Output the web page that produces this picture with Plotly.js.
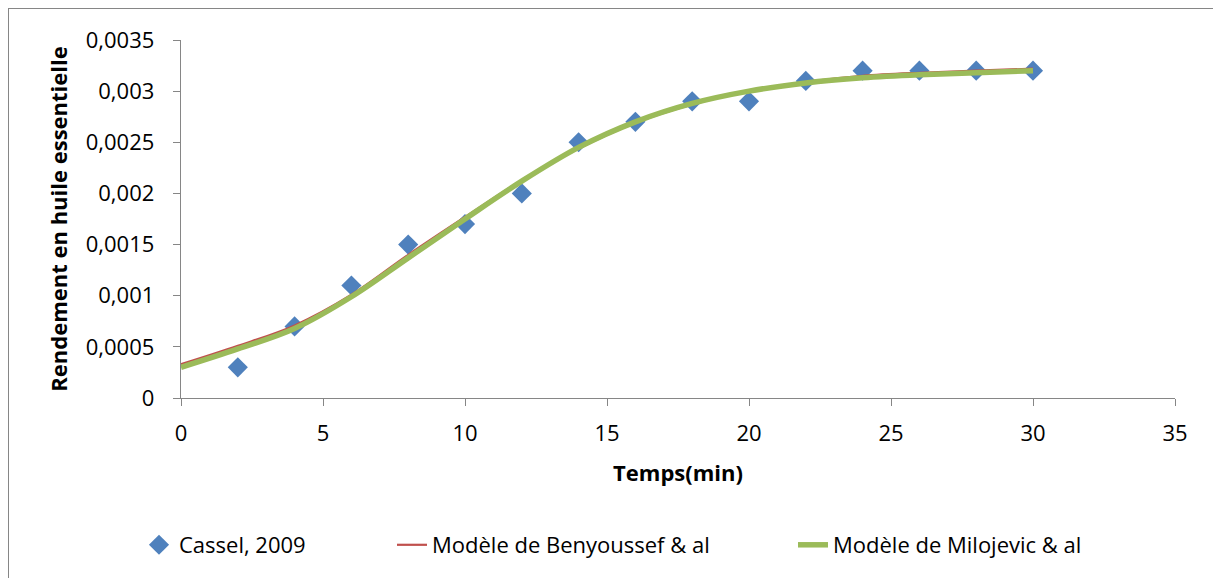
<!DOCTYPE html>
<html>
<head>
<meta charset="utf-8">
<script src="https://cdn.plot.ly/plotly-3.0.1.min.js"></script>
<style>
html,body{margin:0;padding:0;background:#fff;overflow:hidden;}
#frame{position:absolute;left:8px;top:8px;width:1300px;height:700px;border:1.5px solid #868686;box-sizing:border-box;pointer-events:none;z-index:10;}
#chart{width:1213px;height:578px;}
</style>
</head>
<body>
<div id="frame"></div>
<div id="chart"></div>
<script>
// Measured data (Cassel, 2009)
const obsTime = [2, 4, 6, 8, 10, 12, 14, 16, 18, 20, 22, 24, 26, 28, 30];
const obsYield = [0.0003, 0.0007, 0.0011, 0.0015, 0.0017, 0.002, 0.0025, 0.0027, 0.0029, 0.0029, 0.0031, 0.0032, 0.0032, 0.0032, 0.0032];

// Model curves
const modelTime = [0, 2, 4, 6, 8, 10, 12, 14, 16, 18, 20, 22, 24, 26, 28, 30];
const benyoussef = [0.00033, 0.00051, 0.00071, 0.00101, 0.0014, 0.00177, 0.00213, 0.00244, 0.00269, 0.00287, 0.003, 0.00309, 0.00315, 0.00318, 0.0032, 0.00322];
const milojevic = [0.00030, 0.00048, 0.00068, 0.00099, 0.00137, 0.00175, 0.00212, 0.00245, 0.0027, 0.00288, 0.003, 0.00308, 0.00313, 0.00316, 0.00318, 0.0032];

const yTickVals = [0, 0.0005, 0.001, 0.0015, 0.002, 0.0025, 0.003, 0.0035];
const yTickText = ["0", "0,0005", "0,001", "0,0015", "0,002", "0,0025", "0,003", "0,0035"];
const xTickVals = [0, 5, 10, 15, 20, 25, 30, 35];

const FONT = "Open Sans, Noto Sans, sans-serif";
const FS = 22;

const traces = [
  {x: obsTime, y: obsYield, type: 'scatter', mode: 'markers', name: 'Cassel, 2009', legend: 'legend',
   marker: {symbol: 'diamond', size: 15.5, color: '#4F81BD'}},
  {x: modelTime, y: benyoussef, type: 'scatter', mode: 'lines', name: 'Modèle de Benyoussef & al', legend: 'legend2',
   line: {color: '#C0504D', width: 2.2, shape: 'spline'}},
  {x: modelTime, y: milojevic, type: 'scatter', mode: 'lines', name: 'Modèle de Milojevic & al', legend: 'legend3',
   line: {color: '#9BBB59', width: 5.5, shape: 'spline'}}
];

function leg(x) {
  return {orientation: 'h', x: x, xanchor: 'left', y: -0.4106, yanchor: 'middle',
          font: {family: FONT, size: FS, color: '#000'}, bgcolor: 'rgba(0,0,0,0)'};
}

const layout = {
  width: 1213, height: 578,
  margin: {l: 181, r: 38, t: 40, b: 180, autoexpand: false},
  paper_bgcolor: '#fff', plot_bgcolor: '#fff',
  font: {family: FONT, size: FS, color: '#000'},
  showlegend: true,
  xaxis: {
    range: [0, 35], tickvals: xTickVals, showgrid: false, zeroline: false,
    showline: true, linecolor: '#868686', linewidth: 1.3,
    ticks: 'outside', ticklen: 7, tickcolor: '#868686', ticklabelstandoff: 8,
    tickfont: {family: FONT, size: FS},
    automargin: false,
    title: {text: '<b>Temps(min)</b>', font: {family: FONT, size: FS}, standoff: 20}
  },
  yaxis: {
    range: [0, 0.0035], tickvals: yTickVals, ticktext: yTickText, showgrid: false, zeroline: false,
    showline: true, linecolor: '#868686', linewidth: 1.3,
    ticks: 'outside', ticklen: 7, tickcolor: '#868686', ticklabelstandoff: 14,
    tickfont: {family: FONT, size: FS},
    automargin: false,
    title: {text: '<b>Rendement en huile essentielle</b>', font: {family: FONT, size: FS}, standoff: 12}
  },
  legend: leg((139 - 181) / 994),
  legend2: leg((392 - 181) / 994),
  legend3: leg((793 - 181) / 994)
};

Plotly.newPlot('chart', traces, layout, {displayModeBar: false, staticPlot: true});
</script>
</body>
</html>
